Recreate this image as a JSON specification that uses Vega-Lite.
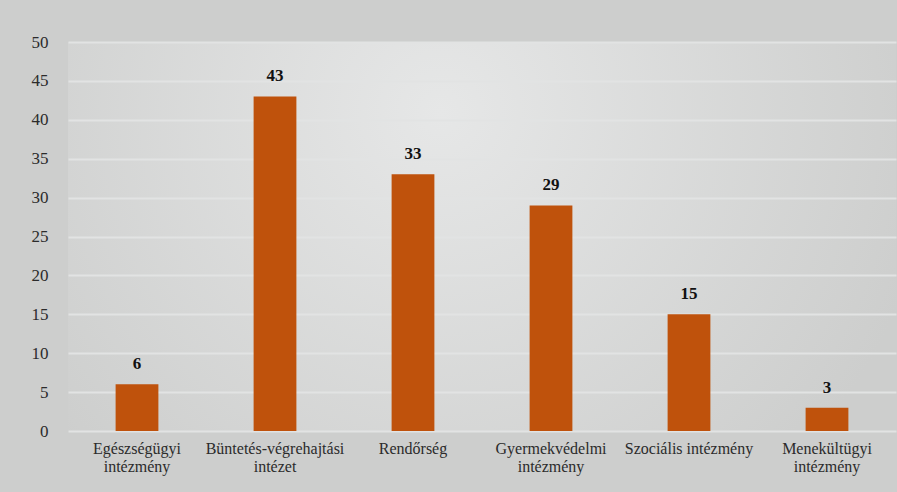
{
  "$schema": "https://vega.github.io/schema/vega-lite/v6.json",
  "width": 828,
  "height": 389,
  "autosize": {"type": "none"},
  "padding": {"left": 68, "top": 42, "right": 1, "bottom": 61},
  "background": "#cdcecd",
  "data": {
    "values": [
      {"kategoria": "Egészségügyi intézmény", "ertek": 6},
      {"kategoria": "Büntetés-végrehajtási intézet", "ertek": 43},
      {"kategoria": "Rendőrség", "ertek": 33},
      {"kategoria": "Gyermekvédelmi intézmény", "ertek": 29},
      {"kategoria": "Szociális intézmény", "ertek": 15},
      {"kategoria": "Menekültügyi intézmény", "ertek": 3}
    ]
  },
  "encoding": {
    "x": {
      "field": "kategoria",
      "type": "nominal",
      "sort": null,
      "scale": {"paddingInner": 0.69, "paddingOuter": 0.345},
      "axis": {
        "title": null,
        "labelAngle": 0,
        "domain": false,
        "ticks": false,
        "labelPadding": 9,
        "labelFontSize": 16,
        "labelColor": "#2b2b2b",
        "labelLineHeight": 18,
        "labelBaseline": "top",
        "labelExpr": "datum.label == 'Szociális intézmény' || datum.label == 'Rendőrség' ? datum.label : split(datum.label, ' ')"
      }
    },
    "y": {
      "field": "ertek",
      "type": "quantitative",
      "scale": {"domain": [0, 50], "nice": false},
      "axis": {
        "title": null,
        "values": [0, 5, 10, 15, 20, 25, 30, 35, 40, 45, 50],
        "domain": false,
        "ticks": false,
        "labelPadding": 20,
        "labelFontSize": 17,
        "labelColor": "#2b2b2b",
        "gridColor": "#e2e3e3",
        "gridWidth": 2
      }
    }
  },
  "layer": [
    {"mark": {"type": "bar", "color": "#bf520c"}},
    {
      "mark": {
        "type": "text",
        "dy": -11,
        "baseline": "bottom",
        "fontSize": 17,
        "fontWeight": "bold",
        "color": "#111111"
      },
      "encoding": {"text": {"field": "ertek", "type": "quantitative"}}
    }
  ],
  "config": {
    "font": "Liberation Serif",
    "axis": {"labelFont": "Liberation Serif"},
    "text": {"font": "Liberation Serif"},
    "view": {
      "stroke": null,
      "fill": {
        "gradient": "radial",
        "x1": 0.45, "y1": 0.35, "r1": 0,
        "x2": 0.45, "y2": 0.35, "r2": 0.6,
        "stops": [
          {"offset": 0, "color": "#e6e7e7"},
          {"offset": 1, "color": "#cdcecd"}
        ]
      }
    }
  }
}
